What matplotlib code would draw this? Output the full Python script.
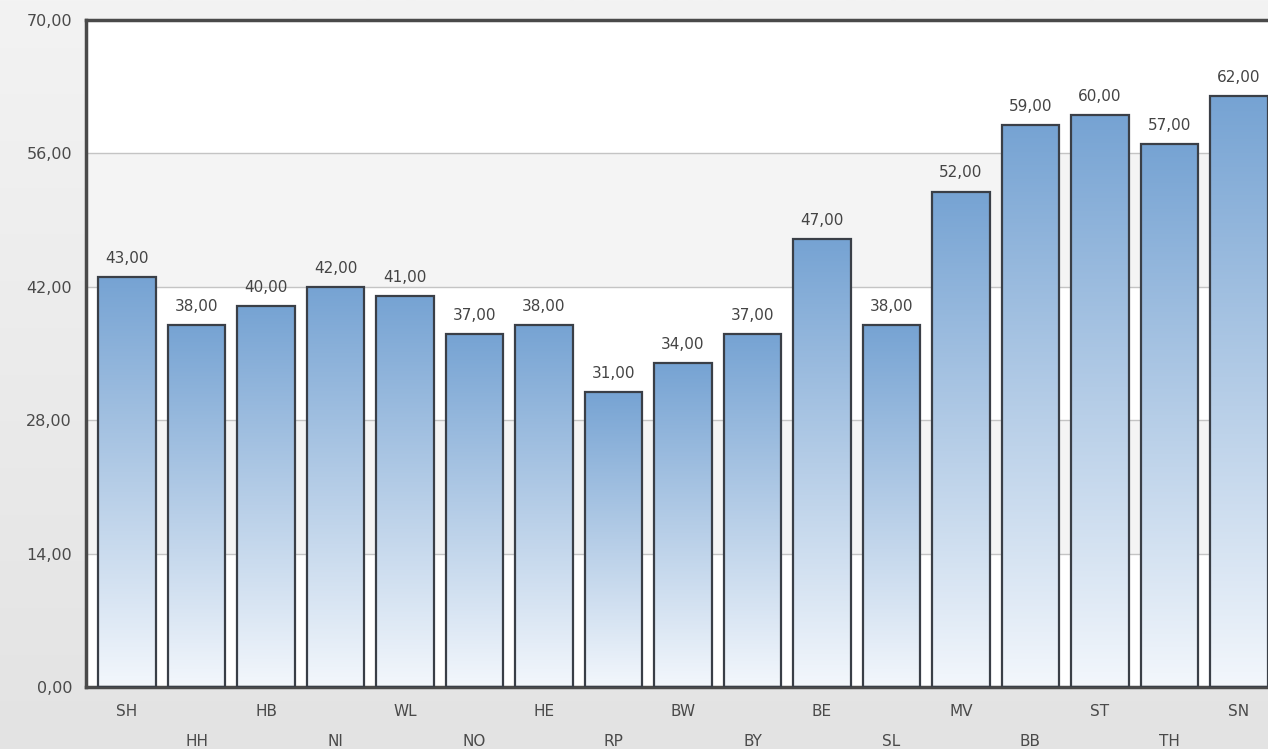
import numpy as np
import matplotlib
matplotlib.use("Agg")
import matplotlib.pyplot as plt
from matplotlib.colors import LinearSegmentedColormap

categories = ["SH", "HH", "HB", "NI", "WL", "NO", "HE", "RP", "BW", "BY",
              "BE", "SL", "MV", "BB", "ST", "TH", "SN"]
values = [43, 38, 40, 42, 41, 37, 38, 31, 34, 37, 47, 38, 52, 59, 60, 57, 62]
yticks = [0, 14, 28, 42, 56, 70]

W, H = 1268, 749
fig = plt.figure(figsize=(W / 100, H / 100), dpi=100)

# figure background gradient
bg = fig.add_axes([0, 0, 1, 1], zorder=-10)
grad = np.linspace(0, 1, 256).reshape(-1, 1)
bgcmap = LinearSegmentedColormap.from_list("bg", ["#e3e3e3", "#f3f3f3"])
bg.imshow(grad, aspect="auto", cmap=bgcmap, origin="lower", extent=[0, 1, 0, 1])
bg.set_axis_off()

left = 86 / W
right = 1280 / W
bottom = (H - 687) / H
top = (H - 20) / H
ax = fig.add_axes([left, bottom, right - left, top - bottom])
n = len(categories)
xmin, xmax = -0.59, n - 1 + 0.59
ax.set_facecolor("white")

# alternating bands
for i in range(len(yticks) - 1):
    if i % 2 == 1:
        ax.axhspan(yticks[i], yticks[i + 1], color="#f4f4f4", zorder=0, lw=0)
for t in yticks[1:-1]:
    ax.axhline(t, color="#c4c4c4", lw=1.0, zorder=1)

barcmap = LinearSegmentedColormap.from_list("bar", ["#f3f7fc", "#b5cde7", "#76a3d3"])
width = 0.834
for i, (c, v) in enumerate(zip(categories, values)):
    x0 = i - width / 2
    ax.imshow(grad, aspect="auto", cmap=barcmap, origin="lower",
              extent=[x0, x0 + width, 0, v], zorder=2, interpolation="bilinear")
    ax.bar(i, v, width=width, facecolor="none", edgecolor="#3a3f47", lw=1.6, zorder=3)
    ax.annotate(f"{v:.2f}".replace(".", ","), (i, v), xytext=(0, 8),
                textcoords="offset points", ha="center", va="bottom",
                fontsize=11, color="#444444", zorder=4)

ax.set_xlim(xmin, xmax)
ax.set_ylim(0, 70)
ax.set_yticks(yticks)
ax.set_yticklabels([f"{t:.2f}".replace(".", ",") for t in yticks],
                   fontsize=11.5, color="#4a4a4a")
ax.tick_params(axis="y", length=0, pad=10)
ax.set_xticks([])

for i, c in enumerate(categories):
    dy = -24 if i % 2 == 0 else -54
    ax.annotate(c, (i, 0), xytext=(0, dy * 72 / 100), textcoords="offset points",
                ha="center", va="center", fontsize=11, color="#4a4a4a",
                annotation_clip=False)

for s in ["left", "top", "bottom"]:
    ax.spines[s].set_color("#4a4a4a")
    ax.spines[s].set_linewidth(2.5)
ax.spines["right"].set_visible(False)

fig.savefig("out.png", dpi=100)
